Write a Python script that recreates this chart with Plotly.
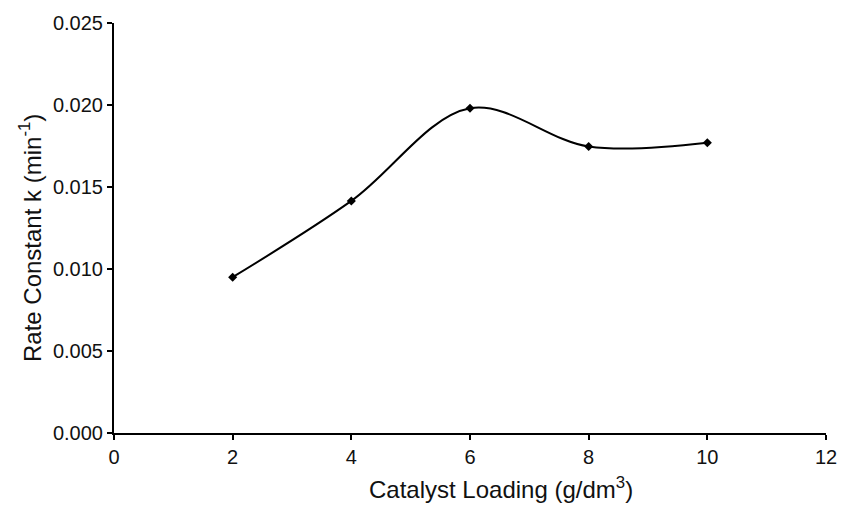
import plotly.graph_objects as go

loading = [2, 4, 6, 8, 10]
rate_k = [0.0095, 0.01415, 0.0198, 0.01747, 0.0177]

x_ticks = [0, 2, 4, 6, 8, 10, 12]
y_ticks = [0.000, 0.005, 0.010, 0.015, 0.020, 0.025]
y_tick_text = ["0.000", "0.005", "0.010", "0.015", "0.020", "0.025"]

fig = go.Figure()
fig.add_trace(go.Scatter(
    x=loading, y=rate_k, mode="lines+markers",
    line=dict(color="black", width=2, shape="spline", smoothing=1.0),
    marker=dict(symbol="diamond", size=7, color="black"),
    showlegend=False,
))

font = "Liberation Sans, Arial, sans-serif"
txt = "#111"
fig.update_layout(
    width=849, height=506,
    margin=dict(l=114, r=21, t=15, b=73),
    paper_bgcolor="white", plot_bgcolor="white",
    font=dict(family=font, size=20, color=txt),
    xaxis=dict(range=[0, 12], tickvals=x_ticks, showgrid=False, zeroline=False,
               showline=True, linecolor="black", linewidth=2,
               ticks="outside", ticklen=5, tickwidth=1.5, tickcolor="black",
               tickfont=dict(size=20, color=txt)),
    yaxis=dict(range=[0, 0.025], tickvals=y_ticks, ticktext=y_tick_text,
               showgrid=False, zeroline=False,
               showline=True, linecolor="black", linewidth=2,
               ticks="outside", ticklen=5, tickwidth=1.5, tickcolor="black",
               tickfont=dict(size=20, color=txt)),
    annotations=[
        dict(text="Catalyst Loading (g/dm<sup>3</sup>)", xref="paper", yref="paper",
             x=(502 - 114) / (828 - 114), y=(433 - 489) / 418, xanchor="center", yanchor="middle",
             showarrow=False, font=dict(size=24, family=font, color=txt)),
        dict(text="Rate Constant k (min<sup>-1</sup>)", xref="paper", yref="paper",
             x=(30 - 114) / 714, y=(433 - 234) / 418, xanchor="center", yanchor="middle",
             textangle=-90, showarrow=False, font=dict(size=24, family=font, color=txt)),
    ],
)

fig.write_html("out.html")
